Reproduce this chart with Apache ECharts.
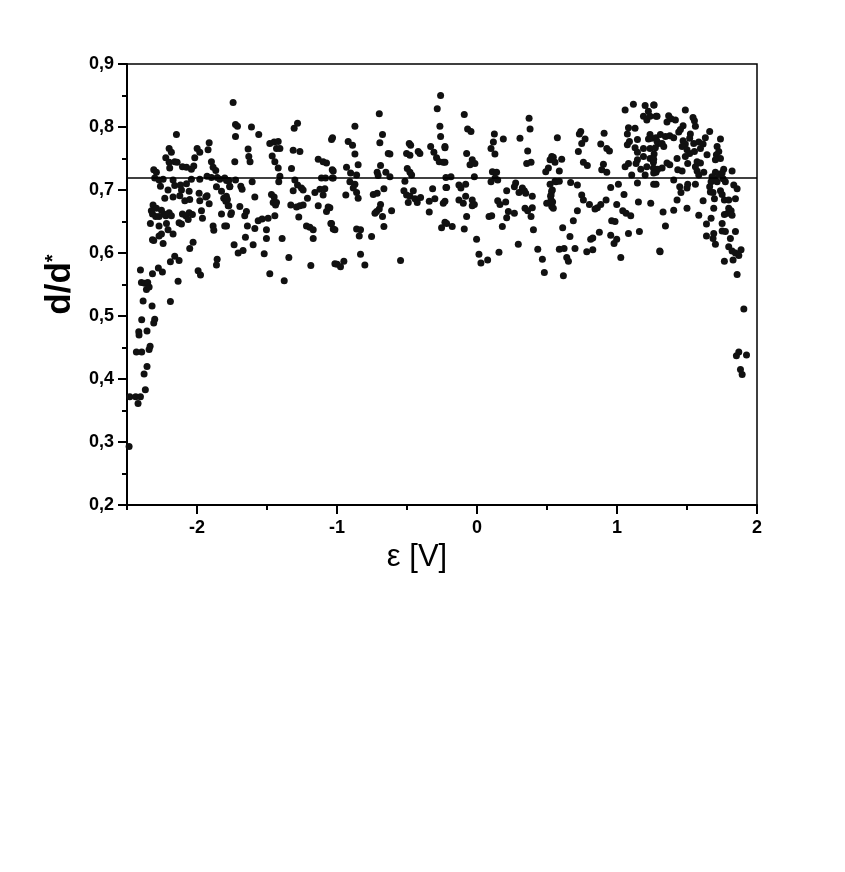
<!DOCTYPE html>
<html><head><meta charset="utf-8">
<script src="https://cdn.jsdelivr.net/npm/echarts@6/dist/echarts.min.js"></script>
<style>html,body{margin:0;padding:0;background:#fff}#c{width:845px;height:872px}</style>
</head><body><div id="c"></div>
<script>
const xMajorTicks = [-2, -1, 0, 1, 2];
const xMinorTicks = [-2.5, -1.5, -0.5, 0.5, 1.5];
const refLine = 0.72;

const ptsLeftEdge = [
[-2.485,0.293],[-2.480,0.372],[-2.438,0.372],[-2.404,0.372],[-2.421,0.361],[-2.369,0.383],[-2.378,0.408],[-2.357,0.420],
[-2.433,0.443],[-2.395,0.443],[-2.342,0.447],[-2.335,0.452],[-2.414,0.470],[-2.416,0.475],[-2.357,0.476],[-2.395,0.494],
[-2.309,0.489],[-2.302,0.495],[-2.321,0.516],[-2.385,0.524],[-2.190,0.523],[-2.404,0.573],[-2.397,0.553],[-2.373,0.552],
[-2.352,0.553],[-2.361,0.542],[-2.342,0.546],[-2.318,0.567],[-2.276,0.576],[-2.247,0.570],[-2.135,0.555],[-2.190,0.586],
[-2.159,0.595],[-2.128,0.588],[-2.028,0.617],[-2.052,0.607],[-1.992,0.572],[-1.975,0.565],[-1.856,0.590],[-1.861,0.581]
];
const ptsLeft = [
[-2.147,0.788],[-2.199,0.766],[-2.183,0.760],[-2.223,0.751],[-2.199,0.744],[-2.159,0.745],[-2.142,0.744],[-2.195,0.735],
[-2.104,0.737],[-2.075,0.736],[-2.040,0.733],[-2.023,0.738],[-2.016,0.751],[-1.999,0.766],[-1.980,0.760],[-1.913,0.775],
[-1.921,0.764],[-1.897,0.745],[-1.885,0.736],[-1.866,0.731],[-2.309,0.732],[-2.290,0.728],[-2.302,0.719],[-2.271,0.716],
[-2.261,0.706],[-2.242,0.717],[-2.171,0.716],[-2.159,0.707],[-2.118,0.708],[-2.075,0.710],[-2.040,0.717],[-1.980,0.717],
[-1.928,0.722],[-1.897,0.720],[-1.856,0.720],[-1.837,0.717],[-1.789,0.715],[-2.207,0.700],[-2.111,0.700],[-2.056,0.698],
[-1.985,0.695],[-1.928,0.691],[-1.861,0.705],[-1.825,0.698],[-1.809,0.687],[-1.766,0.705],[-2.230,0.687],[-2.171,0.689],
[-2.123,0.691],[-2.087,0.683],[-2.052,0.685],[-1.980,0.683],[-1.937,0.689],[-1.913,0.678],[-1.794,0.682],[-1.777,0.675],
[-2.314,0.676],[-2.326,0.667],[-2.318,0.662],[-2.290,0.671],[-2.254,0.668],[-2.237,0.662],[-2.271,0.658],[-2.295,0.658],
[-2.223,0.659],[-2.199,0.664],[-2.183,0.659],[-2.104,0.662],[-2.080,0.659],[-2.056,0.664],[-2.033,0.661],[-1.968,0.667],
[-1.961,0.655],[-1.825,0.662],[-2.333,0.647],[-2.271,0.643],[-2.218,0.647],[-2.128,0.648],[-2.063,0.653],[-2.111,0.646],
[-1.885,0.643],[-1.880,0.636],[-1.789,0.643],[-2.254,0.630],[-2.207,0.637],[-2.171,0.630],[-2.318,0.621],[-2.309,0.620],
[-2.242,0.615],[-2.271,0.627]
];
const ptsMidLeft = [
[-1.742,0.839],[-1.725,0.804],[-1.711,0.801],[-1.725,0.785],[-1.611,0.800],[-1.559,0.788],[-1.282,0.806],[-1.306,0.798],
[-1.039,0.780],[-1.480,0.774],[-1.449,0.776],[-1.420,0.777],[-1.432,0.766],[-1.408,0.766],[-1.463,0.754],[-1.313,0.763],
[-1.265,0.761],[-1.635,0.765],[-1.630,0.753],[-1.621,0.745],[-1.730,0.745],[-1.444,0.745],[-1.420,0.735],[-1.325,0.734],
[-1.134,0.749],[-1.099,0.745],[-1.075,0.743],[-1.034,0.732],[-1.408,0.722],[-1.802,0.719],[-1.773,0.715],[-1.725,0.716],
[-1.766,0.706],[-1.687,0.706],[-1.678,0.701],[-1.606,0.713],[-1.416,0.713],[-1.301,0.716],[-1.282,0.708],[-1.313,0.699],
[-1.254,0.703],[-1.242,0.700],[-1.111,0.719],[-1.082,0.719],[-1.034,0.719],[-1.122,0.701],[-1.087,0.702],[-1.158,0.696],
[-1.099,0.692],[-1.790,0.690],[-1.783,0.685],[-1.587,0.689],[-1.468,0.693],[-1.449,0.689],[-1.456,0.680],[-1.439,0.676],
[-1.432,0.680],[-1.773,0.675],[-1.694,0.674],[-1.330,0.676],[-1.289,0.673],[-1.265,0.675],[-1.242,0.676],[-1.211,0.687],
[-1.134,0.675],[-1.063,0.673],[-1.075,0.666],[-1.754,0.664],[-1.759,0.661],[-1.647,0.666],[-1.659,0.659],[-1.444,0.659],
[-1.273,0.657],[-1.802,0.643],[-1.563,0.651],[-1.535,0.654],[-1.492,0.655],[-1.640,0.643],[-1.587,0.639],[-1.504,0.637],
[-1.218,0.643],[-1.194,0.641],[-1.170,0.637],[-1.044,0.647],[-1.027,0.638],[-1.654,0.625],[-1.504,0.623],[-1.392,0.623],
[-1.170,0.623],[-1.735,0.613],[-1.599,0.613],[-1.706,0.600],[-1.671,0.604],[-1.520,0.599],[-1.344,0.593],[-1.187,0.580],
[-1.015,0.583],[-1.480,0.567],[-1.377,0.556]
];
const ptsCenterLeft = [
[-0.260,0.850],[-0.284,0.829],[-0.698,0.821],[-0.265,0.801],[-0.872,0.801],[-0.260,0.785],[-0.675,0.788],[-1.032,0.783],
[-0.694,0.775],[-0.920,0.777],[-0.889,0.771],[-0.872,0.757],[-0.331,0.769],[-0.229,0.767],[-0.484,0.774],[-0.474,0.771],
[-0.503,0.758],[-0.479,0.755],[-0.420,0.761],[-0.408,0.758],[-0.634,0.758],[-0.622,0.757],[-0.308,0.760],[-0.289,0.751],
[-0.270,0.745],[-0.241,0.744],[-0.849,0.740],[-0.932,0.736],[-0.689,0.739],[-1.027,0.730],[-1.027,0.719],[-0.903,0.727],
[-0.860,0.724],[-0.713,0.728],[-0.706,0.723],[-0.651,0.728],[-0.622,0.721],[-0.498,0.734],[-0.479,0.728],[-0.467,0.724],
[-0.222,0.720],[-0.908,0.713],[-0.872,0.709],[-0.515,0.714],[-0.884,0.703],[-0.860,0.696],[-0.849,0.687],[-0.937,0.692],
[-0.665,0.702],[-0.741,0.693],[-0.713,0.695],[-0.522,0.699],[-0.503,0.692],[-0.479,0.690],[-0.455,0.699],[-0.443,0.686],
[-0.427,0.680],[-0.403,0.688],[-0.491,0.680],[-0.317,0.702],[-0.301,0.686],[-0.341,0.682],[-0.222,0.704],[-0.241,0.679],
[-1.051,0.672],[-0.689,0.677],[-0.698,0.670],[-0.717,0.666],[-0.729,0.663],[-0.610,0.667],[-0.341,0.665],[-0.675,0.658],
[-1.039,0.647],[-1.015,0.637],[-0.665,0.642],[-0.860,0.638],[-0.832,0.637],[-0.841,0.627],[-0.753,0.626],[-0.253,0.640],
[-0.217,0.647],[-0.832,0.598],[-0.951,0.587],[-0.999,0.582],[-0.975,0.578],[-0.801,0.581],[-0.546,0.588]
];
const ptsCenter = [
[-0.091,0.820],[-0.067,0.797],[-0.043,0.793],[0.124,0.789],[0.188,0.781],[0.372,0.814],[0.379,0.797],[0.307,0.782],
[-0.229,0.769],[0.100,0.766],[0.117,0.776],[0.128,0.757],[0.362,0.762],[-0.074,0.758],[-0.034,0.748],[-0.050,0.740],
[-0.015,0.742],[0.355,0.742],[0.386,0.744],[0.534,0.753],[-0.229,0.744],[-0.186,0.721],[-0.019,0.721],[0.110,0.729],
[0.140,0.728],[0.100,0.713],[0.148,0.716],[0.129,0.719],[0.510,0.735],[0.491,0.729],[0.557,0.714],[-0.217,0.704],
[-0.129,0.708],[-0.081,0.709],[-0.115,0.703],[0.276,0.711],[0.267,0.705],[0.300,0.696],[0.212,0.699],[0.324,0.703],
[0.338,0.699],[0.348,0.695],[0.395,0.690],[0.538,0.700],[0.529,0.692],[0.529,0.684],[0.498,0.679],[0.534,0.674],
[-0.229,0.682],[-0.129,0.684],[-0.098,0.679],[-0.081,0.690],[-0.034,0.684],[-0.019,0.677],[-0.034,0.675],[0.148,0.683],
[0.164,0.677],[0.205,0.681],[0.343,0.671],[0.362,0.667],[0.395,0.672],[0.224,0.666],[0.267,0.663],[0.212,0.656],
[-0.074,0.658],[0.086,0.658],[0.105,0.659],[0.386,0.658],[-0.229,0.649],[-0.177,0.642],[-0.091,0.638],[0.181,0.642],
[0.403,0.637],[-0.003,0.622],[0.295,0.614],[0.434,0.606],[0.014,0.598],[0.028,0.584],[0.076,0.589],[0.157,0.601],
[0.467,0.590],[0.481,0.569]
];
const ptsCenterRight = [
[1.058,0.827],[1.117,0.836],[1.201,0.834],[1.265,0.835],[1.189,0.817],[1.213,0.811],[1.236,0.817],[1.279,0.817],
[1.224,0.825],[1.082,0.799],[1.129,0.798],[0.574,0.783],[0.741,0.793],[0.731,0.789],[0.908,0.790],[1.074,0.789],
[1.236,0.788],[1.248,0.782],[1.225,0.781],[1.279,0.783],[1.296,0.774],[1.146,0.780],[0.772,0.781],[0.748,0.774],
[0.884,0.773],[0.927,0.766],[0.946,0.762],[1.089,0.777],[1.074,0.772],[1.129,0.767],[1.146,0.760],[1.189,0.766],
[1.236,0.766],[1.265,0.757],[0.724,0.761],[0.545,0.752],[0.522,0.748],[0.557,0.744],[0.605,0.749],[1.189,0.753],
[1.236,0.750],[1.260,0.744],[1.146,0.748],[0.760,0.744],[0.788,0.739],[0.903,0.741],[0.891,0.732],[0.927,0.728],
[1.082,0.742],[1.058,0.737],[1.136,0.742],[1.170,0.733],[1.213,0.737],[1.260,0.735],[0.588,0.730],[1.105,0.724],
[1.201,0.724],[1.279,0.728],[0.564,0.713],[0.588,0.714],[0.522,0.709],[0.533,0.698],[0.526,0.690],[0.540,0.681],
[0.545,0.671],[0.669,0.712],[0.717,0.708],[1.010,0.709],[0.955,0.704],[1.146,0.711],[1.279,0.709],[0.748,0.692],
[0.760,0.684],[0.803,0.677],[1.050,0.693],[0.922,0.684],[0.843,0.670],[0.860,0.672],[0.884,0.677],[0.717,0.667],
[0.998,0.677],[1.153,0.681],[1.241,0.679],[1.041,0.667],[1.065,0.663],[1.098,0.659],[0.688,0.651],[0.962,0.651],
[0.986,0.650],[0.612,0.640],[0.874,0.633],[0.827,0.624],[0.812,0.622],[1.082,0.631],[1.160,0.634],[0.955,0.628],
[0.998,0.622],[0.979,0.615],[0.664,0.626],[0.588,0.606],[0.622,0.607],[0.700,0.607],[0.784,0.602],[0.827,0.605],
[0.641,0.593],[0.653,0.587],[1.027,0.593],[1.308,0.602],[0.617,0.564]
];
const ptsRight = [
[1.262,0.835],[1.488,0.827],[1.286,0.817],[1.369,0.818],[1.386,0.813],[1.417,0.811],[1.357,0.808],[1.543,0.815],
[1.553,0.810],[1.560,0.801],[1.472,0.802],[1.453,0.796],[1.441,0.792],[1.310,0.788],[1.346,0.785],[1.377,0.786],
[1.405,0.783],[1.524,0.789],[1.519,0.782],[1.662,0.793],[1.631,0.783],[1.739,0.781],[1.286,0.777],[1.322,0.774],
[1.274,0.767],[1.334,0.769],[1.472,0.778],[1.488,0.773],[1.465,0.769],[1.548,0.774],[1.584,0.776],[1.615,0.773],
[1.596,0.766],[1.715,0.769],[1.727,0.761],[1.710,0.756],[1.500,0.764],[1.519,0.758],[1.488,0.753],[1.553,0.761],
[1.643,0.756],[1.739,0.750],[1.703,0.748],[1.262,0.749],[1.429,0.750],[1.357,0.743],[1.377,0.740],[1.572,0.745],
[1.596,0.743],[1.560,0.737],[1.505,0.742],[1.322,0.735],[1.291,0.733],[1.434,0.732],[1.465,0.730],[1.572,0.730],
[1.584,0.724],[1.620,0.728],[1.762,0.733],[1.822,0.730],[1.703,0.728],[1.727,0.725],[1.751,0.727],[1.262,0.727],
[1.679,0.721],[1.696,0.718],[1.672,0.713],[1.715,0.713],[1.758,0.718],[1.774,0.713],[1.405,0.716],[1.262,0.709],
[1.560,0.709],[1.505,0.709],[1.500,0.703],[1.448,0.705],[1.457,0.696],[1.834,0.708],[1.858,0.702],[1.662,0.705],
[1.667,0.697],[1.686,0.696],[1.739,0.699],[1.751,0.693],[1.429,0.684],[1.615,0.683],[1.696,0.686],[1.767,0.684],
[1.798,0.684],[1.846,0.686],[1.405,0.668],[1.500,0.671],[1.691,0.671],[1.798,0.671],[1.815,0.667],[1.791,0.663],
[1.767,0.661],[1.822,0.660],[1.329,0.665],[1.584,0.660],[1.672,0.655],[1.639,0.646],[1.751,0.647],[1.346,0.643],
[1.751,0.635],[1.774,0.634],[1.846,0.634],[1.691,0.631],[1.639,0.627],[1.686,0.623],[1.703,0.614],[1.810,0.623],
[1.798,0.610],[1.822,0.603],[1.846,0.600],[1.886,0.605],[1.870,0.596],[1.305,0.603],[1.767,0.587],[1.829,0.589],
[1.858,0.566],[1.906,0.511],[1.870,0.443],[1.853,0.437],[1.925,0.438],[1.882,0.415],[1.894,0.407]
];

const allPts = [].concat(ptsLeftEdge, ptsLeft, ptsMidLeft, ptsCenterLeft, ptsCenter, ptsCenterRight, ptsRight);

const chart = echarts.init(document.getElementById('c'), null, {renderer: 'canvas'});
const fontFam = 'Liberation Sans, Arial, Helvetica, sans-serif';
chart.setOption({
  animation: false,
  backgroundColor: '#fff',
  grid: {left: 127, right: 88, top: 64, bottom: 367, show: true, borderColor: '#000', borderWidth: 1.5, backgroundColor: 'transparent'},
  xAxis: [{
    type: 'value', min: -2.5, max: 2,
    axisLine: {show: true, onZero: false, lineStyle: {color: '#000', width: 2}},
    axisTick: {show: true, customValues: xMajorTicks, length: 9, lineStyle: {color: '#000', width: 2}},
    axisLabel: {customValues: xMajorTicks, color: '#000', fontFamily: fontFam, fontWeight: 'bold', fontSize: 18, margin: 14,
      formatter: v => String(v)},
    splitLine: {show: false},
    name: 'ε [V]', nameLocation: 'middle', nameGap: 35,
    nameTextStyle: {color: '#000', fontFamily: fontFam, fontSize: 31, padding: [0, 50, 0, 0]}
  }, {
    type: 'value', min: -2.5, max: 2, position: 'bottom', gridIndex: 0,
    axisLine: {show: false},
    axisTick: {show: true, customValues: xMinorTicks, length: 5, lineStyle: {color: '#000', width: 2}},
    axisLabel: {show: false},
    splitLine: {show: false}
  }],
  yAxis: {
    type: 'value', min: 0.2, max: 0.9, interval: 0.1,
    axisLine: {show: true, onZero: false, lineStyle: {color: '#000', width: 2}},
    axisTick: {show: true, length: 9, lineStyle: {color: '#000', width: 2}},
    minorTick: {show: true, splitNumber: 2, length: 5, lineStyle: {color: '#000', width: 2}},
    axisLabel: {color: '#000', fontFamily: fontFam, fontWeight: 'bold', fontSize: 18, margin: 13,
      formatter: v => v.toFixed(1).replace('.', ',')},
    splitLine: {show: false},
    name: '{a|d/d}{s|*}', nameLocation: 'middle', nameGap: 42,
    nameTextStyle: {
      rich: {
        a: {fontFamily: fontFam, fontWeight: 'bold', fontSize: 35, color: '#000'},
        s: {fontFamily: fontFam, fontWeight: 'bold', fontSize: 20, color: '#000', verticalAlign: 'top', padding: [0, 0, 14, 0]}
      }
    }
  },
  series: [{
    type: 'scatter',
    xAxisIndex: 0,
    data: allPts,
    symbolSize: 7,
    itemStyle: {color: '#111', opacity: 1},
    markLine: {
      silent: true, symbol: 'none', animation: false,
      label: {show: false},
      lineStyle: {color: '#000', width: 1.5, type: 'solid'},
      data: [{yAxis: refLine}]
    }
  }]
});
</script></body></html>
